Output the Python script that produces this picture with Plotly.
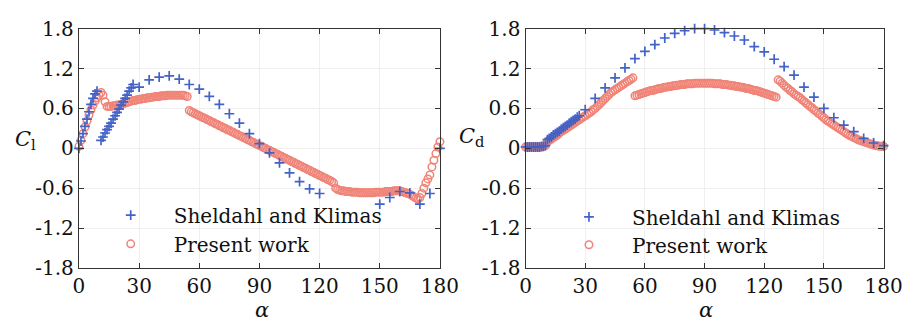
import plotly.graph_objects as go
from plotly.subplots import make_subplots

# ---------------- data ----------------
alpha_sk_cl = [0, 1, 2, 3, 4, 5, 6, 7, 8, 9,
               11, 12, 13, 14, 15, 16, 17, 18, 19, 20, 21, 22, 23, 24, 25, 26, 27,
               30, 35, 40, 45, 50, 55, 60, 65, 70, 75, 80, 85, 90, 95, 100, 105, 110, 115, 120,
               150, 155, 160, 165, 170, 175, 180]
cl_sk = [0.00, 0.11, 0.22, 0.33, 0.44, 0.55, 0.66, 0.75, 0.82, 0.86,
         0.12, 0.17, 0.23, 0.28, 0.33, 0.38, 0.44, 0.49, 0.54, 0.59, 0.65, 0.70, 0.75, 0.80, 0.86, 0.91, 0.96,
         0.92, 1.03, 1.07, 1.09, 1.04, 0.96, 0.89, 0.78, 0.66, 0.52, 0.38, 0.22, 0.07, -0.07, -0.22, -0.37, -0.50, -0.61, -0.68,
         -0.84, -0.74, -0.65, -0.67, -0.84, -0.68, 0.00]

alpha_pw = list(range(0, 181))
cl_pw = [0.03, 0.12, 0.22, 0.32, 0.41, 0.50, 0.58, 0.65, 0.71, 0.76,
         0.80, 0.84, 0.80, 0.70, 0.63, 0.63, 0.63, 0.64, 0.64, 0.65,
         0.65, 0.66, 0.67, 0.68, 0.69, 0.70, 0.71, 0.72, 0.72, 0.73,
         0.74, 0.74, 0.75, 0.75, 0.76, 0.76, 0.77, 0.77, 0.78, 0.78,
         0.78, 0.79, 0.79, 0.79, 0.80, 0.80, 0.80, 0.80, 0.80, 0.80,
         0.80, 0.80, 0.80, 0.79, 0.78, 0.57, 0.55, 0.535, 0.52, 0.505,
         0.49, 0.475, 0.46, 0.45, 0.43, 0.42, 0.40, 0.39, 0.37, 0.36,
         0.34, 0.33, 0.31, 0.30, 0.28, 0.27, 0.25, 0.24, 0.22, 0.21,
         0.19, 0.18, 0.16, 0.15, 0.13, 0.12, 0.10, 0.09, 0.07, 0.06,
         0.04, 0.03, 0.01, 0.00, -0.02, -0.03, -0.05, -0.06, -0.08, -0.09,
         -0.11, -0.12, -0.14, -0.15, -0.17, -0.18, -0.20, -0.21, -0.23, -0.24,
         -0.26, -0.27, -0.29, -0.30, -0.32, -0.33, -0.35, -0.36, -0.38, -0.39,
         -0.41, -0.42, -0.44, -0.45, -0.47, -0.48, -0.50, -0.52, -0.60, -0.62,
         -0.63, -0.64, -0.64, -0.65, -0.65, -0.65, -0.66, -0.66, -0.66, -0.66,
         -0.67, -0.67, -0.67, -0.67, -0.67, -0.67, -0.67, -0.67, -0.66, -0.66,
         -0.66, -0.66, -0.66, -0.65, -0.65, -0.65, -0.65, -0.64, -0.64, -0.64,
         -0.64, -0.65, -0.66, -0.67, -0.68, -0.69, -0.71, -0.73, -0.75, -0.76,
         -0.74, -0.68, -0.60, -0.52, -0.46, -0.40, -0.28, -0.18, -0.08, 0.02,
         0.10]

alpha_sk_cd = [0, 1, 2, 3, 4, 5, 6, 7, 8, 9, 10,
               11, 12, 13, 14, 15, 16, 17, 18, 19, 20, 21, 22, 23, 24, 25, 26, 27,
               30, 35, 40, 45, 50, 55, 60, 65, 70, 75, 80, 85, 90, 95, 100, 105, 110, 115, 120,
               125, 130, 135, 140, 145, 150, 155, 160, 165, 170, 175, 180]
cd_sk = [0.02, 0.02, 0.02, 0.02, 0.02, 0.02, 0.02, 0.02, 0.03, 0.03, 0.04,
         0.13, 0.15, 0.17, 0.20, 0.22, 0.24, 0.26, 0.29, 0.31, 0.33, 0.35, 0.38, 0.40, 0.42, 0.44, 0.47, 0.49,
         0.58, 0.75, 0.91, 1.06, 1.21, 1.35, 1.46, 1.56, 1.66, 1.73, 1.77, 1.80, 1.80, 1.78, 1.74, 1.69, 1.63, 1.53, 1.45,
         1.34, 1.23, 1.10, 0.92, 0.77, 0.60, 0.46, 0.35, 0.25, 0.15, 0.08, 0.04]

cd_pw = [0.02, 0.02, 0.02, 0.02, 0.02, 0.02, 0.02, 0.02, 0.02, 0.03,
         0.04, 0.10, 0.12, 0.14, 0.16, 0.18, 0.20, 0.23, 0.25, 0.27,
         0.29, 0.31, 0.33, 0.35, 0.37, 0.39, 0.41, 0.43, 0.45, 0.47,
         0.49, 0.51, 0.53, 0.55, 0.58, 0.60, 0.63, 0.66, 0.69, 0.72,
         0.75, 0.78, 0.81, 0.84, 0.86, 0.88, 0.90, 0.92, 0.94, 0.96,
         0.98, 1.00, 1.02, 1.04, 1.06, 0.79, 0.80, 0.81, 0.82, 0.83,
         0.84, 0.85, 0.86, 0.87, 0.87, 0.88, 0.89, 0.90, 0.90, 0.91,
         0.92, 0.92, 0.93, 0.93, 0.94, 0.94, 0.95, 0.95, 0.96, 0.96,
         0.96, 0.97, 0.97, 0.97, 0.97, 0.98, 0.98, 0.98, 0.98, 0.98,
         0.98, 0.98, 0.98, 0.98, 0.98, 0.97, 0.97, 0.97, 0.97, 0.96,
         0.96, 0.96, 0.95, 0.95, 0.94, 0.94, 0.93, 0.93, 0.92, 0.92,
         0.91, 0.90, 0.90, 0.89, 0.88, 0.87, 0.87, 0.86, 0.85, 0.84,
         0.83, 0.82, 0.81, 0.80, 0.79, 0.78, 0.77, 1.03, 1.01, 0.98,
         0.95, 0.92, 0.90, 0.87, 0.85, 0.82, 0.80, 0.78, 0.76, 0.73,
         0.71, 0.68, 0.66, 0.63, 0.61, 0.58, 0.56, 0.53, 0.51, 0.48,
         0.46, 0.43, 0.41, 0.39, 0.37, 0.35, 0.33, 0.31, 0.29, 0.27,
         0.25, 0.23, 0.21, 0.19, 0.18, 0.16, 0.15, 0.13, 0.12, 0.11,
         0.10, 0.09, 0.08, 0.07, 0.06, 0.05, 0.04, 0.04, 0.03, 0.03,
         0.03]

x_ticks = [0, 30, 60, 90, 120, 150, 180]
x_ticktext = ["0", "30", "60", "90", "120", "150", "180"]
y_ticks = [-1.8, -1.2, -0.6, 0, 0.6, 1.2, 1.8]
y_ticktext = ["-1.8", "-1.2", "-0.6", "0", "0.6", "1.2", "1.8"]

series_names = ["Sheldahl and Klimas", "Present work"]

# ---------------- style ----------------
BLUE = "#4262c8"
RED = "#f08478"
FONT = "DejaVu Serif"
TXT = "#111111"

fig = make_subplots(rows=1, cols=2)

blue_marker = dict(symbol="cross-thin", size=7, line=dict(color=BLUE, width=1.7), color=BLUE)
red_marker = dict(symbol="circle-open", size=7.5, line=dict(color=RED, width=1.5), color=RED)

fig.add_trace(go.Scatter(x=alpha_pw, y=cl_pw, mode="markers", name=series_names[1],
                         marker=red_marker, cliponaxis=False, legend="legend2"), 1, 1)
fig.add_trace(go.Scatter(x=alpha_sk_cl, y=cl_sk, mode="markers", name=series_names[0],
                         marker=blue_marker, cliponaxis=False, legend="legend"), 1, 1)
fig.add_trace(go.Scatter(x=alpha_pw, y=cd_pw, mode="markers", name=series_names[1],
                         marker=red_marker, cliponaxis=False, legend="legend4"), 1, 2)
fig.add_trace(go.Scatter(x=alpha_sk_cd, y=cd_sk, mode="markers", name=series_names[0],
                         marker=blue_marker, cliponaxis=False, legend="legend3"), 1, 2)

W, H = 923, 330
def px(v):
    return v / W
def py(v):
    return 1 - v / H

axis_common = dict(showline=True, mirror="allticks", linecolor="#333333", linewidth=1.3,
                   ticks="inside", ticklen=5, tickcolor="#333333", tickwidth=1.2,
                   showgrid=True, gridcolor="#efefef", gridwidth=1, zeroline=False,
                   tickfont=dict(family=FONT, size=20, color=TXT))

fig.update_xaxes(range=[0, 180], tickvals=x_ticks, ticktext=x_ticktext, **axis_common)
fig.update_yaxes(range=[-1.8, 1.8], tickvals=y_ticks, ticktext=y_ticktext, **axis_common)
fig.update_xaxes(domain=[px(75), px(446)], row=1, col=1)
fig.update_xaxes(domain=[px(534), px(902)], row=1, col=2)
fig.update_yaxes(domain=[py(276), py(18)])

leg_common = dict(bgcolor="rgba(0,0,0,0)", borderwidth=0, itemwidth=76,
                  font=dict(family=FONT, size=20, color=TXT),
                  xanchor="left", yanchor="middle")
fig.update_layout(
    legend=dict(x=px(84), y=py(219), **leg_common),
    legend2=dict(x=px(84), y=py(250), **leg_common),
    legend3=dict(x=px(555), y=py(221), **leg_common),
    legend4=dict(x=px(555), y=py(251), **leg_common),
)

annots = [
    dict(text="<i>C</i><sub>l</sub>", x=px(20), y=py(138)),
    dict(text="<i>C</i><sub>d</sub>", x=px(478), y=py(135)),
    dict(text="<i>α</i>", x=px(263), y=py(321)),
    dict(text="<i>α</i>", x=px(719), y=py(321)),
]
for a in annots:
    fig.add_annotation(text=a["text"], x=a["x"], y=a["y"], xref="paper", yref="paper",
                       showarrow=False, xanchor="center", yanchor="middle",
                       font=dict(family=FONT, size=21, color=TXT))

fig.update_layout(width=W, height=H, margin=dict(l=0, r=0, t=0, b=0),
                  paper_bgcolor="white", plot_bgcolor="white", showlegend=True)

fig.write_html("out.html")
